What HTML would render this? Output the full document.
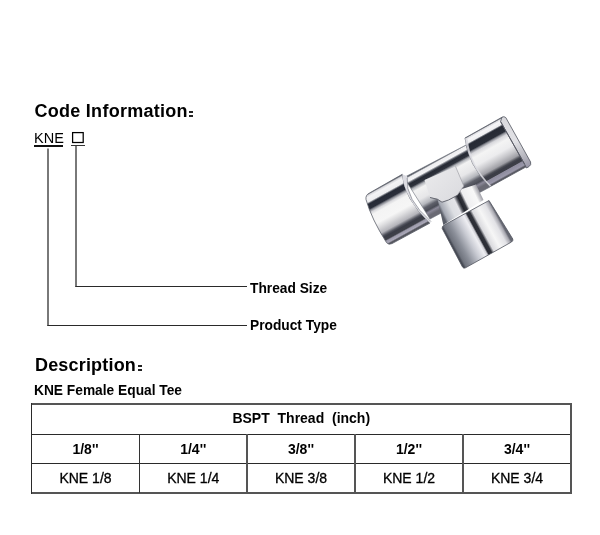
<!DOCTYPE html>
<html><head><meta charset="utf-8">
<style>
html,body{margin:0;padding:0;background:#fff;}
body{width:600px;height:535px;position:relative;overflow:hidden;font-family:"Liberation Sans",sans-serif;color:#000;}
.a{position:absolute;white-space:nowrap;line-height:1;}
.h{font-weight:bold;font-size:18px;letter-spacing:0.27px;}
.b{font-weight:bold;font-size:14px;}
.b2{font-weight:bold;font-size:13.75px;}
.ln{position:absolute;background:#333;}
.dot{position:absolute;background:#222;width:3.5px;height:2px;}
.tc{position:absolute;text-align:center;white-space:nowrap;line-height:1;font-size:14px;}
.r{font-size:14px;-webkit-text-stroke:0.3px #000;}
</style></head><body><div id="root" style="position:absolute;left:0;top:0;width:600px;height:535px;will-change:transform;">
<div class="a h" id="t1" style="left:34.5px;top:101.5px;">Code Information</div>
<div class="dot" style="left:189.3px;top:110.8px;"></div>
<div class="dot" style="left:189.3px;top:114.8px;"></div>

<div class="a" id="kne" style="left:34px;top:131px;font-size:14.5px;">KNE</div>
<div class="ln" style="left:34px;top:145px;width:29px;height:2px;background:#111;"></div>
<svg style="position:absolute;left:0;top:0" width="100" height="160"><rect x="72.6" y="132.6" width="10.6" height="9.9" fill="none" stroke="#000" stroke-width="1.25"/></svg>
<div class="ln" style="left:71px;top:145px;width:14px;height:1px;"></div>


<svg style="position:absolute;left:0;top:0" width="260" height="340">
<rect x="47.4" y="148.5" width="1.2" height="177.5" fill="#222"/>
<rect x="47.4" y="325" width="199.6" height="1" fill="#2a2a2a"/>
<rect x="75.4" y="146" width="1.2" height="141" fill="#222"/>
<rect x="75.4" y="286" width="171.6" height="1" fill="#2a2a2a"/>
</svg>
<div class="a b2" id="ts" style="left:250px;top:282px;">Thread Size</div>
<div class="a b2" id="pt" style="left:250px;top:319px;">Product Type</div>

<div class="a h" id="t2" style="left:35px;top:356px;letter-spacing:0.18px;">Description</div>
<div class="dot" style="left:138.2px;top:365px;"></div>
<div class="dot" style="left:138.2px;top:369px;"></div>

<div class="a b2" id="fe" style="left:34px;top:383.5px;">KNE Female Equal Tee</div>

<div class="tc b" style="left:31.5px;width:539.5px;top:411px;">BSPT&nbsp; Thread&nbsp; (inch)</div>
<div class="tc b" style="left:31.5px;width:108.0px;top:441.5px;">1/8&#39;&#39;</div>
<div class="tc b" style="left:139.5px;width:107.5px;top:441.5px;">1/4&#39;&#39;</div>
<div class="tc b" style="left:247px;width:108px;top:441.5px;">3/8&#39;&#39;</div>
<div class="tc b" style="left:355px;width:108px;top:441.5px;">1/2&#39;&#39;</div>
<div class="tc b" style="left:463px;width:108px;top:441.5px;">3/4&#39;&#39;</div>
<div class="tc r" style="left:31.5px;width:108.0px;top:471px;">KNE 1/8</div>
<div class="tc r" style="left:139.5px;width:107.5px;top:471px;">KNE 1/4</div>
<div class="tc r" style="left:247px;width:108px;top:471px;">KNE 3/8</div>
<div class="tc r" style="left:355px;width:108px;top:471px;">KNE 1/2</div>
<div class="tc r" style="left:463px;width:108px;top:471px;">KNE 3/4</div>
<svg style="position:absolute;left:0;top:0" width="600" height="535">
<rect x="31" y="403" width="541" height="2" fill="#555"/>
<rect x="31" y="434" width="540" height="1" fill="#2a2a2a"/>
<rect x="31" y="463" width="540" height="1" fill="#2a2a2a"/>
<rect x="31" y="492" width="541" height="2" fill="#555"/>
<rect x="31" y="403" width="1" height="91" fill="#2a2a2a"/>
<rect x="570" y="403" width="2" height="91" fill="#555"/>
<rect x="139" y="434" width="1" height="59" fill="#333"/>
<rect x="246" y="434" width="2" height="59" fill="#555"/>
<rect x="354" y="434" width="2" height="59" fill="#555"/>
<rect x="462" y="434" width="2" height="59" fill="#555"/>
</svg>

<svg id="fit" style="position:absolute;left:0;top:0;" width="600" height="535" viewBox="0 0 600 535">
<defs>
<linearGradient id="gL" gradientUnits="userSpaceOnUse" x1="384" y1="184.8" x2="410" y2="232">
<stop offset="0" stop-color="#5a5e68"/>
<stop offset="0.025" stop-color="#d8d8dc"/>
<stop offset="0.06" stop-color="#f4f4f6"/>
<stop offset="0.14" stop-color="#eeeef0"/>
<stop offset="0.165" stop-color="#5a5e68"/>
<stop offset="0.18" stop-color="#262a36"/>
<stop offset="0.26" stop-color="#2a2e3a"/>
<stop offset="0.29" stop-color="#8a8c94"/>
<stop offset="0.33" stop-color="#d8d8dc"/>
<stop offset="0.38" stop-color="#f4f4f4"/>
<stop offset="0.56" stop-color="#f6f6f6"/>
<stop offset="0.64" stop-color="#dedee0"/>
<stop offset="0.76" stop-color="#b4b4ba"/>
<stop offset="0.82" stop-color="#50525c"/>
<stop offset="0.85" stop-color="#3a3c46"/>
<stop offset="0.91" stop-color="#3e4048"/>
<stop offset="0.935" stop-color="#9c9aaa"/>
<stop offset="0.975" stop-color="#aaa8b8"/>
<stop offset="1" stop-color="#55565e"/>
</linearGradient>
<linearGradient id="gC" gradientUnits="userSpaceOnUse" x1="436" y1="161" x2="457.5" y2="200">
<stop offset="0" stop-color="#5a5e68"/>
<stop offset="0.03" stop-color="#eeeef0"/>
<stop offset="0.1" stop-color="#f4f4f6"/>
<stop offset="0.14" stop-color="#50545e"/>
<stop offset="0.17" stop-color="#262a34"/>
<stop offset="0.24" stop-color="#2e323c"/>
<stop offset="0.29" stop-color="#b0b2b8"/>
<stop offset="0.36" stop-color="#f2f2f2"/>
<stop offset="0.58" stop-color="#e6e6e8"/>
<stop offset="0.72" stop-color="#b4b6bc"/>
<stop offset="0.8" stop-color="#5e606a"/>
<stop offset="0.88" stop-color="#4a4c56"/>
<stop offset="0.93" stop-color="#8a8898"/>
<stop offset="1" stop-color="#6a6a74"/>
</linearGradient>
<linearGradient id="gR" gradientUnits="userSpaceOnUse" x1="483.7" y1="127.5" x2="509.9" y2="174.7">
<stop offset="0" stop-color="#5a5e68"/>
<stop offset="0.02" stop-color="#dcdce0"/>
<stop offset="0.05" stop-color="#f6f6f8"/>
<stop offset="0.11" stop-color="#eeeef0"/>
<stop offset="0.13" stop-color="#5a5e68"/>
<stop offset="0.145" stop-color="#262a34"/>
<stop offset="0.25" stop-color="#2a2e38"/>
<stop offset="0.28" stop-color="#8e9098"/>
<stop offset="0.32" stop-color="#d8d8dc"/>
<stop offset="0.4" stop-color="#f4f4f4"/>
<stop offset="0.55" stop-color="#ececee"/>
<stop offset="0.66" stop-color="#c8c8cc"/>
<stop offset="0.76" stop-color="#a0a0a6"/>
<stop offset="0.81" stop-color="#4a4c54"/>
<stop offset="0.84" stop-color="#3a3c46"/>
<stop offset="0.885" stop-color="#3e4048"/>
<stop offset="0.9" stop-color="#8e8c9e"/>
<stop offset="0.97" stop-color="#9a98aa"/>
<stop offset="1" stop-color="#55565e"/>
</linearGradient>
<linearGradient id="gB" gradientUnits="userSpaceOnUse" x1="453" y1="247" x2="500.4" y2="221.2">
<stop offset="0" stop-color="#444852"/>
<stop offset="0.04" stop-color="#70747e"/>
<stop offset="0.15" stop-color="#8c909a"/>
<stop offset="0.32" stop-color="#c8cad2"/>
<stop offset="0.45" stop-color="#eeeef2"/>
<stop offset="0.49" stop-color="#d0d0d6"/>
<stop offset="0.52" stop-color="#2a2c34"/>
<stop offset="0.58" stop-color="#30323a"/>
<stop offset="0.63" stop-color="#dadade"/>
<stop offset="0.76" stop-color="#f6f6f6"/>
<stop offset="0.90" stop-color="#e2e2e6"/>
<stop offset="0.97" stop-color="#a8a8b0"/>
<stop offset="1" stop-color="#666872"/>
</linearGradient>
<linearGradient id="gN" gradientUnits="userSpaceOnUse" x1="441.5" y1="213" x2="480.5" y2="194">
<stop offset="0" stop-color="#5a5e68"/>
<stop offset="0.06" stop-color="#a4a8b2"/>
<stop offset="0.25" stop-color="#dcdee2"/>
<stop offset="0.4" stop-color="#e4e4e8"/>
<stop offset="0.46" stop-color="#5a5c64"/>
<stop offset="0.5" stop-color="#24262e"/>
<stop offset="0.57" stop-color="#34363e"/>
<stop offset="0.63" stop-color="#eeeef0"/>
<stop offset="0.88" stop-color="#f8f8f8"/>
<stop offset="1" stop-color="#a0a0a8"/>
</linearGradient>
<linearGradient id="gH" gradientUnits="userSpaceOnUse" x1="430" y1="175" x2="455" y2="200">
<stop offset="0" stop-color="#e8e8ea"/>
<stop offset="1" stop-color="#dcdce0"/>
</linearGradient>
<linearGradient id="gRim" gradientUnits="userSpaceOnUse" x1="503" y1="117" x2="528" y2="166">
<stop offset="0" stop-color="#d8d8dc"/>
<stop offset="0.5" stop-color="#e2e2e6"/>
<stop offset="0.8" stop-color="#b8b8c0"/>
<stop offset="1" stop-color="#9c9aaa"/>
</linearGradient>
</defs>
<!-- central tube -->
<path d="M404,177.5 L466,145 L490,187 L430,219 Z" fill="url(#gC)" stroke="#6a6e78" stroke-width="0.6"/>
<!-- left cylinder -->
<path d="M369.5,193 L402.3,174.3 Q403.8,198.3 430,223 L392,243.6 Q388.5,245.3 386.5,242.6 Q371.5,219 366,199.5 Q365.3,195 369.5,193 Z" fill="url(#gL)" stroke="#5a5e68" stroke-width="0.8"/>
<!-- step face on left cyl right end -->
<path d="M402.3,174.3 Q403.8,198.3 430,223 L430.8,222 Q404.5,198.5 407.3,176.3 Z" fill="#dcdce2"/>
<path d="M407.2,178 Q405,198.8 431,221.6" fill="none" stroke="#7a7c86" stroke-width="0.7"/>
<!-- right cylinder -->
<path d="M465,138 L502.4,117 L529.5,165 L490,186.7 Q468,165 465,138 Z" fill="url(#gR)" stroke="#5a5e68" stroke-width="0.8"/>
<!-- right rim -->
<path d="M501.8,117.4 Q504,115.8 505.8,117.6 L530.6,162 Q531.5,165 529,166.6 L526.5,168 L524.5,164 L500.6,121.6 Z" fill="url(#gRim)" stroke="#50545e" stroke-width="0.8"/>
<path d="M500.6,121.6 L524.5,164" stroke="#5a5c66" stroke-width="1"/>
<!-- left edge highlight of right cyl -->
<path d="M465,138 L467.8,139.5 Q470.2,165 491.2,185.8 L490,186.7 Q468,165 465,138 Z" fill="#dcdce2" opacity="0.85"/>
<!-- neck -->
<path d="M437,197 L476,184.5 L483.5,200 L443.3,225 Z" fill="url(#gN)"/>
<!-- hex block -->
<path d="M424.5,180 L455.5,166.4 L463.8,186 L457,195.5 L448.5,200 L442,202 L437.5,199 L430,197 Z" fill="url(#gH)"/>
<path d="M455.5,166.4 L463.8,186 L457,195.5" fill="none" stroke="#a0a0a8" stroke-width="0.7"/>
<path d="M430,197.5 L437.5,199.3 L442,202.2 L448.5,200 L457,195.5" fill="none" stroke="#5a5c66" stroke-width="0.9"/>
<!-- branch cylinder -->
<path d="M443.8,225.3 L489,200.5 L512.8,239 Q513.3,241 511.5,242 L465.5,267.8 Q463.5,268.8 462.5,267 L442.2,228.5 Q442,226.3 443.8,225.3 Z" fill="url(#gB)" stroke="#50545e" stroke-width="0.8"/>
</svg>
</div></body></html>
